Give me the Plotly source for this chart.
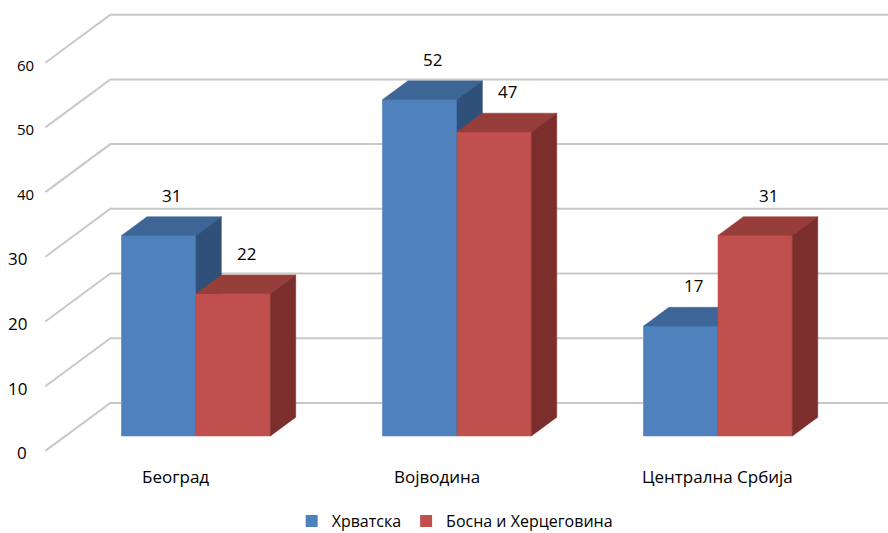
import plotly.graph_objects as go

# ---------------- data ----------------
categories = ["Београд", "Војводина", "Централна Србија"]
series_names = ["Хрватска", "Босна и Херцеговина"]
hrvatska = [31, 52, 17]
bosna = [22, 47, 31]
y_ticks = [0, 10, 20, 30, 40, 50, 60]

# ---------------- geometry / style ----------------
W, H = 888, 533
PX_X = 261.0          # pixels per category
PX_Y = 6.47           # pixels per value unit
XMIN = -196 / PX_X
XMAX = XMIN + W / PX_X
YMIN = -(H - 436) / PX_Y
YMAX = YMIN + H / PX_Y

BAR_W = 0.285
DX = 65 / PX_X        # x shift for the full depth
DY = 48 / PX_Y        # y shift for the full depth
S_WALL = -0.31        # depth of front edge of side wall
S_BACK = 0.69         # depth of back wall
S_BAR = 0.39          # depth of a bar
WALL_X = -0.5
FONT = "Open Sans"

colors = {
    "front": ["#4F81BD", "#C0504D"],
    "top": ["#3D6696", "#973E3B"],
    "side": ["#2F5079", "#7B2E2C"],
}
label_nudge = [0, 0, 20]


def proj(x, v, s):
    return x + s * DX, v + s * DY


def poly(pts):
    xs, ys = [], []
    for (x, v, s) in pts:
        px, py = proj(x, v, s)
        xs.append(px)
        ys.append(py)
    xs.append(xs[0])
    ys.append(ys[0])
    return xs, ys


fig = go.Figure()

# gridlines: side wall diagonals and back wall horizontals
grid_x, grid_y = [], []
for t in y_ticks:
    x0, y0 = proj(WALL_X, t, S_WALL)
    x1, y1 = proj(WALL_X, t, S_BACK)
    x2, y2 = proj(WALL_X + 3.2, t, S_BACK)
    grid_x += [x0, x1, x2, None]
    grid_y += [y0, y1, y2, None]
fig.add_trace(go.Scatter(x=grid_x, y=grid_y, mode="lines",
                         line=dict(color="#C8C8C8", width=2),
                         hoverinfo="skip", showlegend=False))

series = [hrvatska, bosna]
offsets = [-BAR_W / 2, BAR_W / 2]

# front faces through the bar API (also provide the legend)
for k, vals in enumerate(series):
    fig.add_trace(go.Bar(x=[i + offsets[k] for i in range(len(categories))],
                         y=vals, width=BAR_W, base=0,
                         marker=dict(color=colors["front"][k], line=dict(width=0)),
                         name=series_names[k], showlegend=True, hoverinfo="skip"))

# 3D faces, drawn group by group, blue before red
for i in range(len(categories)):
    for k, vals in enumerate(series):
        v = vals[i]
        xl = i + offsets[k] - BAR_W / 2
        xr = i + offsets[k] + BAR_W / 2
        faces = [
            ("front", [(xl, 0, 0), (xr, 0, 0), (xr, v, 0), (xl, v, 0)]),
            ("top", [(xl, v, 0), (xr, v, 0), (xr, v, S_BAR), (xl, v, S_BAR)]),
            ("side", [(xr, 0, 0), (xr, v, 0), (xr, v, S_BAR), (xr, 0, S_BAR)]),
        ]
        for fname, pts in faces:
            xs, ys = poly(pts)
            fig.add_trace(go.Scatter(x=xs, y=ys, mode="lines", fill="toself",
                                     fillcolor=colors[fname][k],
                                     line=dict(width=0.5, color=colors[fname][k]),
                                     hoverinfo="skip", showlegend=False))

annotations = []
# value labels
for i in range(len(categories)):
    for k, vals in enumerate(series):
        v = vals[i]
        xc = i + offsets[k]
        lx, _ = proj(xc, v, 0.2)
        _, ly = proj(xc, v, S_BAR)
        annotations.append(dict(x=lx, y=ly, text=str(v), showarrow=False,
                                xanchor="center", yanchor="bottom", yshift=8,
                                font=dict(family=FONT, size=17, color="#000000")))
# category labels
for i, c in enumerate(categories):
    cx, cy = proj(i, 0, S_WALL)
    annotations.append(dict(x=cx, y=cy, text=c, showarrow=False,
                            xanchor="center", yanchor="middle", yshift=-26,
                            xshift=label_nudge[i],
                            font=dict(family=FONT, size=17, color="#000000")))
# value axis labels
for t in y_ticks:
    tx, ty = proj(WALL_X, t, S_WALL)
    upper = t >= 40
    annotations.append(dict(x=tx, y=ty, text=str(t), showarrow=False,
                            xanchor="right", yanchor="middle",
                            xshift=-9 if upper else -16, yshift=-2,
                            font=dict(family=FONT, size=15 if upper else 17,
                                      color="#000000")))

fig.update_layout(
    width=W, height=H,
    margin=dict(l=0, r=0, t=0, b=0, autoexpand=False),
    paper_bgcolor="white", plot_bgcolor="white",
    barmode="overlay",
    hovermode=False,
    xaxis=dict(range=[XMIN, XMAX], visible=False, fixedrange=True),
    yaxis=dict(range=[YMIN, YMAX], visible=False, fixedrange=True),
    annotations=annotations,
    legend=dict(orientation="h", x=0.512, xanchor="center", y=(H - 521) / H,
                yanchor="middle", font=dict(family=FONT, size=16, color="#000000"),
                bgcolor="rgba(0,0,0,0)", itemwidth=30, tracegroupgap=0),
)

fig.write_html("out.html",
               config={"displayModeBar": False, "staticPlot": True},
               post_script="document.body.style.margin='0px';"
                           "document.body.style.overflow='hidden';")
